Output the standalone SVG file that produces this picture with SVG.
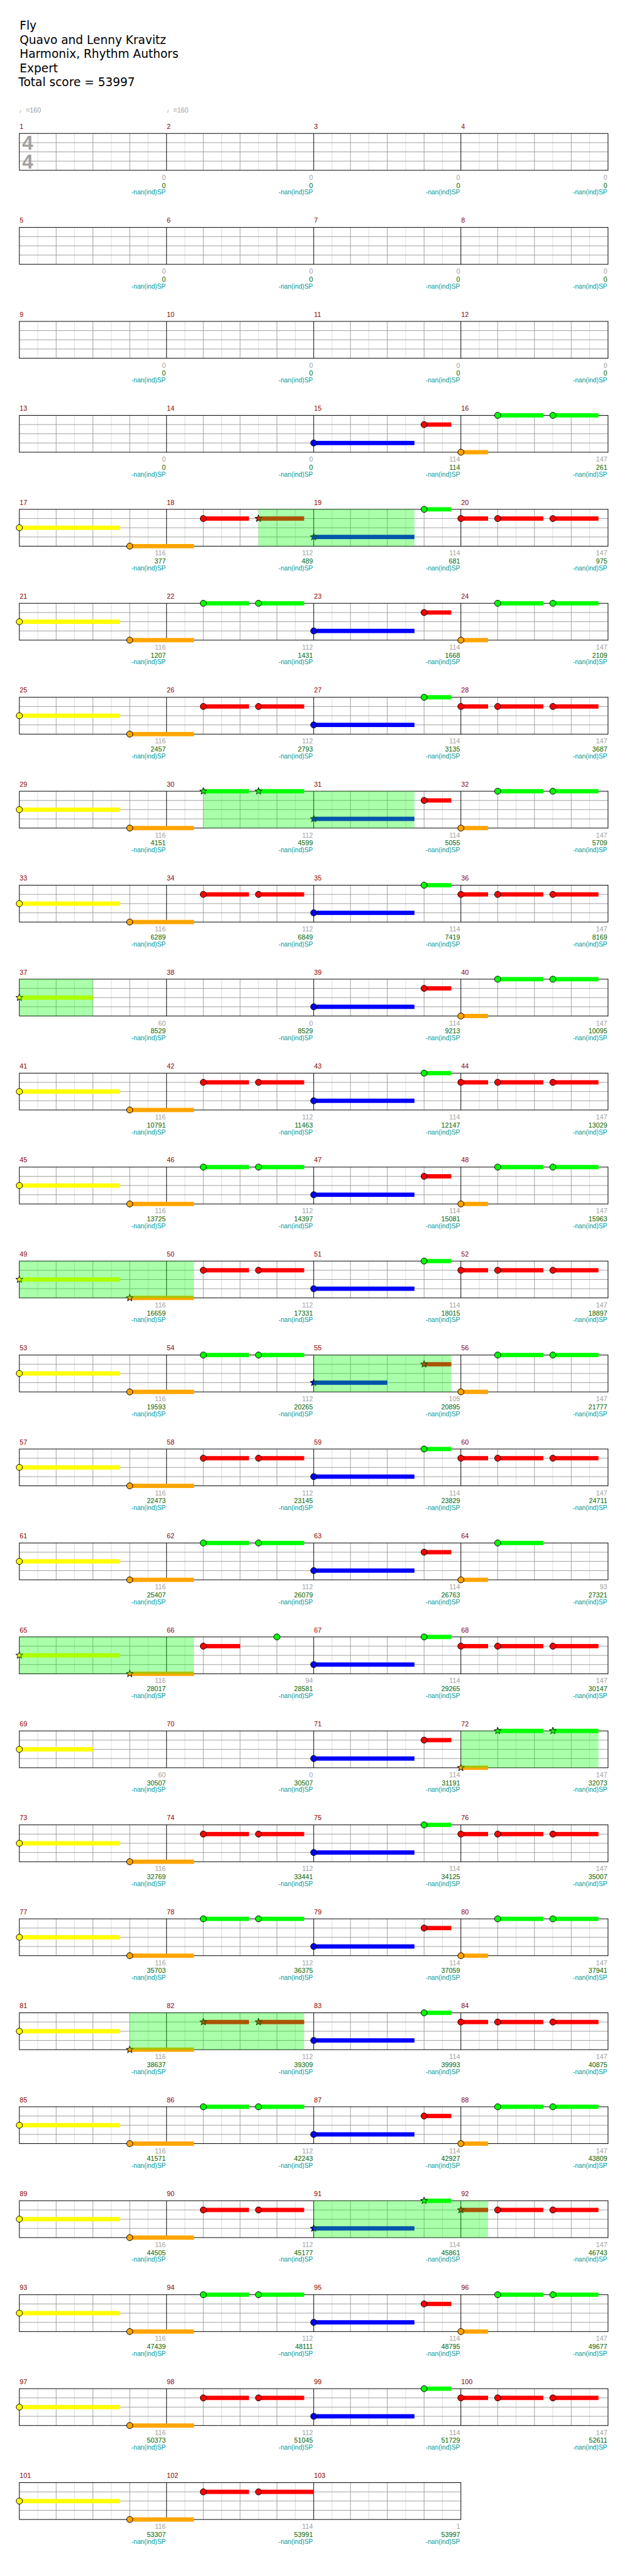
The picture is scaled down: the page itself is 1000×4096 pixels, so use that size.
<svg xmlns="http://www.w3.org/2000/svg" xmlns:xlink="http://www.w3.org/1999/xlink" width="1000" height="4096" viewBox="0 0 1000 4096">
<style>
.t{font-family:"DejaVu Sans",sans-serif;font-size:19px;fill:#000}
.tm{font-family:"Liberation Sans","DejaVu Sans",sans-serif;font-size:11px;fill:#a0a0a0}
.ts{font-family:"Liberation Sans",sans-serif;font-size:32px;font-weight:bold;fill:#a0a0a0}
.mn{font-family:"Liberation Sans",sans-serif;font-size:11px;fill:#8b0000}
.s1,.s2,.s3{font-family:"Liberation Sans",sans-serif;font-size:11px;text-anchor:end}
.s1{fill:#a0a0a0}.s2{fill:#006400}.s3{fill:#009b9b;font-size:10.5px}
.hl{stroke:#dcdcdc;stroke-width:1;fill:none}
.bl{stroke:#a0a0a0;stroke-width:1;fill:none}
.ml{stroke:#000;stroke-width:1;fill:none}
.G{fill:#00ff00}.R{fill:#ff0000}.Y{fill:#ffff00}.B{fill:#0000ff}.O{fill:#ffa500}
circle{stroke:#000;stroke-width:1}
.sp{fill:#00ff00;fill-opacity:0.333}
</style>
<defs>
<path id="star" d="M0,-6L1.47,-2.02L5.71,-1.85L2.38,0.77L3.53,4.85L0,2.5L-3.53,4.85L-2.38,0.77L-5.71,-1.85L-1.47,-2.02Z" stroke="#000" stroke-width="1"/>
<g id="grid4">
<path class="hl" d="M29.95,0V60M89.85,0V60M149.75,0V60M209.65,0V60M269.55,0V60M329.45,0V60M389.35,0V60M449.25,0V60M509.15,0V60M569.05,0V60M628.95,0V60M688.85,0V60M748.75,0V60M808.65,0V60M868.55,0V60M928.45,0V60"/>
<path class="bl" d="M59.9,0V60M119.8,0V60M179.7,0V60M299.5,0V60M359.4,0V60M419.3,0V60M539.1,0V60M599,0V60M658.9,0V60M778.7,0V60M838.6,0V60M898.5,0V60M0,15H958.4M0,30H958.4M0,45H958.4"/>
<path class="ml" d="M239.6,0V60M479.2,0V60M718.8,0V60"/>
<rect class="ml" x="0" y="0" width="958.4" height="60"/>
</g>
<g id="grid3">
<path class="hl" d="M29.95,0V60M89.85,0V60M149.75,0V60M209.65,0V60M269.55,0V60M329.45,0V60M389.35,0V60M449.25,0V60M509.15,0V60M569.05,0V60M628.95,0V60M688.85,0V60"/>
<path class="bl" d="M59.9,0V60M119.8,0V60M179.7,0V60M299.5,0V60M359.4,0V60M419.3,0V60M539.1,0V60M599,0V60M658.9,0V60M0,15H718.8M0,30H718.8M0,45H718.8"/>
<path class="ml" d="M239.6,0V60M479.2,0V60"/>
<rect class="ml" x="0" y="0" width="718.8" height="60"/>
</g>
<g id="YO">
<rect class="Y" x="0" y="26.5" width="164" height="7"/><circle class="Y" cx="0" cy="30" r="5"/>
<rect class="O" x="179.7" y="56.5" width="104.5" height="7"/><circle class="O" cx="179.7" cy="60" r="5"/>
</g>
<g id="A1g">
<rect class="G" x="299.5" y="-3.5" width="74.3" height="7"/><circle class="G" cx="299.5" cy="0" r="5"/>
<rect class="G" x="389.35" y="-3.5" width="74.3" height="7"/><circle class="G" cx="389.35" cy="0" r="5"/>
</g>
<g id="B1r">
<rect class="R" x="299.5" y="11.5" width="74.3" height="7"/><circle class="R" cx="299.5" cy="15" r="5"/>
<rect class="R" x="389.35" y="11.5" width="74.3" height="7"/><circle class="R" cx="389.35" cy="15" r="5"/>
</g>
<g id="Bl">
<rect class="B" x="479.2" y="41.5" width="164" height="7"/><circle class="B" cx="479.2" cy="45" r="5"/>
</g>
<g id="A2t">
<rect class="R" x="658.9" y="11.5" width="44.3" height="7"/><circle class="R" cx="658.9" cy="15" r="5"/>
<rect class="O" x="718.8" y="56.5" width="44.3" height="7"/><circle class="O" cx="718.8" cy="60" r="5"/>
<rect class="G" x="778.7" y="-3.5" width="74.3" height="7"/><circle class="G" cx="778.7" cy="0" r="5"/>
<rect class="G" x="868.55" y="-3.5" width="74.3" height="7"/><circle class="G" cx="868.55" cy="0" r="5"/>
</g>
<g id="B2t">
<rect class="G" x="658.9" y="-3.5" width="44.3" height="7"/><circle class="G" cx="658.9" cy="0" r="5"/>
<rect class="R" x="718.8" y="11.5" width="44.3" height="7"/><circle class="R" cx="718.8" cy="15" r="5"/>
<rect class="R" x="778.7" y="11.5" width="74.3" height="7"/><circle class="R" cx="778.7" cy="15" r="5"/>
<rect class="R" x="868.55" y="11.5" width="74.3" height="7"/><circle class="R" cx="868.55" cy="15" r="5"/>
</g>
<g id="A"><use href="#YO"/><use href="#A1g"/><use href="#Bl"/><use href="#A2t"/></g>
<g id="B"><use href="#YO"/><use href="#B1r"/><use href="#Bl"/><use href="#B2t"/></g>
<g id="nan4">
<text class="s3" x="238.3" y="99.5">-nan(ind)SP</text><text class="s3" x="477.9" y="99.5">-nan(ind)SP</text><text class="s3" x="717.5" y="99.5">-nan(ind)SP</text><text class="s3" x="957.1" y="99.5">-nan(ind)SP</text>
</g>
</defs>
<g transform="scale(0.9765625)">
<g id="header">
<text class="t" x="32" y="48">Fly</text>
<text class="t" x="32" y="71.5">Quavo and Lenny Kravitz</text>
<text class="t" x="32" y="94.5">Harmonix, Rhythm Authors</text>
<text class="t" x="32" y="117.5">Expert</text>
<text class="t" x="30" y="140.5">Total score = 53997</text>
<text class="tm" x="31" y="183">♩=160</text>
<text class="tm" x="271" y="183">♩=160</text>
</g>

<g id="row-1-4" transform="translate(31.5,217.3)">
<use href="#grid4"/>
<text class="ts" x="4.5" y="26.7">4</text><text class="ts" x="4.5" y="56.7">4</text>
<text class="mn" x="0.5" y="-7.5">1</text><text class="mn" x="240.1" y="-7.5">2</text><text class="mn" x="479.7" y="-7.5">3</text><text class="mn" x="719.3" y="-7.5">4</text>
<text class="s1" x="238.3" y="75.4">0</text><text class="s1" x="477.9" y="75.4">0</text><text class="s1" x="717.5" y="75.4">0</text><text class="s1" x="957.1" y="75.4">0</text>
<text class="s2" x="238.3" y="88.4">0</text><text class="s2" x="477.9" y="88.4">0</text><text class="s2" x="717.5" y="88.4">0</text><text class="s2" x="957.1" y="88.4">0</text>
<use href="#nan4"/>
</g>

<g id="row-5-8" transform="translate(31.5,370.3)">
<use href="#grid4"/>
<text class="mn" x="0.5" y="-7.5">5</text><text class="mn" x="240.1" y="-7.5">6</text><text class="mn" x="479.7" y="-7.5">7</text><text class="mn" x="719.3" y="-7.5">8</text>
<text class="s1" x="238.3" y="75.4">0</text><text class="s1" x="477.9" y="75.4">0</text><text class="s1" x="717.5" y="75.4">0</text><text class="s1" x="957.1" y="75.4">0</text>
<text class="s2" x="238.3" y="88.4">0</text><text class="s2" x="477.9" y="88.4">0</text><text class="s2" x="717.5" y="88.4">0</text><text class="s2" x="957.1" y="88.4">0</text>
<use href="#nan4"/>
</g>

<g id="row-9-12" transform="translate(31.5,523.3)">
<use href="#grid4"/>
<text class="mn" x="0.5" y="-7.5">9</text><text class="mn" x="240.1" y="-7.5">10</text><text class="mn" x="479.7" y="-7.5">11</text><text class="mn" x="719.3" y="-7.5">12</text>
<text class="s1" x="238.3" y="75.4">0</text><text class="s1" x="477.9" y="75.4">0</text><text class="s1" x="717.5" y="75.4">0</text><text class="s1" x="957.1" y="75.4">0</text>
<text class="s2" x="238.3" y="88.4">0</text><text class="s2" x="477.9" y="88.4">0</text><text class="s2" x="717.5" y="88.4">0</text><text class="s2" x="957.1" y="88.4">0</text>
<use href="#nan4"/>
</g>

<g id="row-13-16" transform="translate(31.5,676.3)">
<use href="#grid4"/>
<use href="#Bl"/><use href="#A2t"/>
<text class="mn" x="0.5" y="-7.5">13</text><text class="mn" x="240.1" y="-7.5">14</text><text class="mn" x="479.7" y="-7.5">15</text><text class="mn" x="719.3" y="-7.5">16</text>
<text class="s1" x="238.3" y="75.4">0</text><text class="s1" x="477.9" y="75.4">0</text><text class="s1" x="717.5" y="75.4">114</text><text class="s1" x="957.1" y="75.4">147</text>
<text class="s2" x="238.3" y="88.4">0</text><text class="s2" x="477.9" y="88.4">0</text><text class="s2" x="717.5" y="88.4">114</text><text class="s2" x="957.1" y="88.4">261</text>
<use href="#nan4"/>
</g>

<g id="row-17-20" transform="translate(31.5,829.3)">
<use href="#grid4"/>
<use href="#YO"/>
<rect class="R" x="299.5" y="11.5" width="74.3" height="7"/><circle class="R" cx="299.5" cy="15" r="5"/>
<rect class="R" x="389.35" y="11.5" width="74.3" height="7"/><use href="#star" class="R" x="389.35" y="15"/>
<rect class="B" x="479.2" y="41.5" width="164" height="7"/><use href="#star" class="B" x="479.2" y="45"/>
<use href="#B2t"/>
<rect class="sp" x="389.35" y="0" width="253.85" height="60"/>
<text class="mn" x="0.5" y="-7.5">17</text><text class="mn" x="240.1" y="-7.5">18</text><text class="mn" x="479.7" y="-7.5">19</text><text class="mn" x="719.3" y="-7.5">20</text>
<text class="s1" x="238.3" y="75.4">116</text><text class="s1" x="477.9" y="75.4">112</text><text class="s1" x="717.5" y="75.4">114</text><text class="s1" x="957.1" y="75.4">147</text>
<text class="s2" x="238.3" y="88.4">377</text><text class="s2" x="477.9" y="88.4">489</text><text class="s2" x="717.5" y="88.4">681</text><text class="s2" x="957.1" y="88.4">975</text>
<use href="#nan4"/>
</g>

<g id="row-21-24" transform="translate(31.5,982.3)">
<use href="#grid4"/><use href="#A"/>
<text class="mn" x="0.5" y="-7.5">21</text><text class="mn" x="240.1" y="-7.5">22</text><text class="mn" x="479.7" y="-7.5">23</text><text class="mn" x="719.3" y="-7.5">24</text>
<text class="s1" x="238.3" y="75.4">116</text><text class="s1" x="477.9" y="75.4">112</text><text class="s1" x="717.5" y="75.4">114</text><text class="s1" x="957.1" y="75.4">147</text>
<text class="s2" x="238.3" y="88.4">1207</text><text class="s2" x="477.9" y="88.4">1431</text><text class="s2" x="717.5" y="88.4">1668</text><text class="s2" x="957.1" y="88.4">2109</text>
<use href="#nan4"/>
</g>

<g id="row-25-28" transform="translate(31.5,1135.3)">
<use href="#grid4"/><use href="#B"/>
<text class="mn" x="0.5" y="-7.5">25</text><text class="mn" x="240.1" y="-7.5">26</text><text class="mn" x="479.7" y="-7.5">27</text><text class="mn" x="719.3" y="-7.5">28</text>
<text class="s1" x="238.3" y="75.4">116</text><text class="s1" x="477.9" y="75.4">112</text><text class="s1" x="717.5" y="75.4">114</text><text class="s1" x="957.1" y="75.4">147</text>
<text class="s2" x="238.3" y="88.4">2457</text><text class="s2" x="477.9" y="88.4">2793</text><text class="s2" x="717.5" y="88.4">3135</text><text class="s2" x="957.1" y="88.4">3687</text>
<use href="#nan4"/>
</g>

<g id="row-29-32" transform="translate(31.5,1288.3)">
<use href="#grid4"/>
<use href="#YO"/>
<rect class="G" x="299.5" y="-3.5" width="74.3" height="7"/><use href="#star" class="G" x="299.5" y="0"/>
<rect class="G" x="389.35" y="-3.5" width="74.3" height="7"/><use href="#star" class="G" x="389.35" y="0"/>
<rect class="B" x="479.2" y="41.5" width="164" height="7"/><use href="#star" class="B" x="479.2" y="45"/>
<use href="#A2t"/>
<rect class="sp" x="299.5" y="0" width="343.7" height="60"/>
<text class="mn" x="0.5" y="-7.5">29</text><text class="mn" x="240.1" y="-7.5">30</text><text class="mn" x="479.7" y="-7.5">31</text><text class="mn" x="719.3" y="-7.5">32</text>
<text class="s1" x="238.3" y="75.4">116</text><text class="s1" x="477.9" y="75.4">112</text><text class="s1" x="717.5" y="75.4">114</text><text class="s1" x="957.1" y="75.4">147</text>
<text class="s2" x="238.3" y="88.4">4151</text><text class="s2" x="477.9" y="88.4">4599</text><text class="s2" x="717.5" y="88.4">5055</text><text class="s2" x="957.1" y="88.4">5709</text>
<use href="#nan4"/>
</g>

<g id="row-33-36" transform="translate(31.5,1441.3)">
<use href="#grid4"/><use href="#B"/>
<text class="mn" x="0.5" y="-7.5">33</text><text class="mn" x="240.1" y="-7.5">34</text><text class="mn" x="479.7" y="-7.5">35</text><text class="mn" x="719.3" y="-7.5">36</text>
<text class="s1" x="238.3" y="75.4">116</text><text class="s1" x="477.9" y="75.4">112</text><text class="s1" x="717.5" y="75.4">114</text><text class="s1" x="957.1" y="75.4">147</text>
<text class="s2" x="238.3" y="88.4">6289</text><text class="s2" x="477.9" y="88.4">6849</text><text class="s2" x="717.5" y="88.4">7419</text><text class="s2" x="957.1" y="88.4">8169</text>
<use href="#nan4"/>
</g>

<g id="row-37-40" transform="translate(31.5,1594.3)">
<use href="#grid4"/>
<rect class="Y" x="0" y="26.5" width="119.8" height="7"/><use href="#star" class="Y" x="0" y="30"/>
<use href="#Bl"/><use href="#A2t"/>
<rect class="sp" x="0" y="0" width="119.8" height="60"/>
<text class="mn" x="0.5" y="-7.5">37</text><text class="mn" x="240.1" y="-7.5">38</text><text class="mn" x="479.7" y="-7.5">39</text><text class="mn" x="719.3" y="-7.5">40</text>
<text class="s1" x="238.3" y="75.4">60</text><text class="s1" x="477.9" y="75.4">0</text><text class="s1" x="717.5" y="75.4">114</text><text class="s1" x="957.1" y="75.4">147</text>
<text class="s2" x="238.3" y="88.4">8529</text><text class="s2" x="477.9" y="88.4">8529</text><text class="s2" x="717.5" y="88.4">9213</text><text class="s2" x="957.1" y="88.4">10095</text>
<use href="#nan4"/>
</g>

<g id="row-41-44" transform="translate(31.5,1747.3)">
<use href="#grid4"/><use href="#B"/>
<text class="mn" x="0.5" y="-7.5">41</text><text class="mn" x="240.1" y="-7.5">42</text><text class="mn" x="479.7" y="-7.5">43</text><text class="mn" x="719.3" y="-7.5">44</text>
<text class="s1" x="238.3" y="75.4">116</text><text class="s1" x="477.9" y="75.4">112</text><text class="s1" x="717.5" y="75.4">114</text><text class="s1" x="957.1" y="75.4">147</text>
<text class="s2" x="238.3" y="88.4">10791</text><text class="s2" x="477.9" y="88.4">11463</text><text class="s2" x="717.5" y="88.4">12147</text><text class="s2" x="957.1" y="88.4">13029</text>
<use href="#nan4"/>
</g>

<g id="row-45-48" transform="translate(31.5,1900.3)">
<use href="#grid4"/><use href="#A"/>
<text class="mn" x="0.5" y="-7.5">45</text><text class="mn" x="240.1" y="-7.5">46</text><text class="mn" x="479.7" y="-7.5">47</text><text class="mn" x="719.3" y="-7.5">48</text>
<text class="s1" x="238.3" y="75.4">116</text><text class="s1" x="477.9" y="75.4">112</text><text class="s1" x="717.5" y="75.4">114</text><text class="s1" x="957.1" y="75.4">147</text>
<text class="s2" x="238.3" y="88.4">13725</text><text class="s2" x="477.9" y="88.4">14397</text><text class="s2" x="717.5" y="88.4">15081</text><text class="s2" x="957.1" y="88.4">15963</text>
<use href="#nan4"/>
</g>

<g id="row-49-52" transform="translate(31.5,2053.3)">
<use href="#grid4"/>
<rect class="Y" x="0" y="26.5" width="164" height="7"/><use href="#star" class="Y" x="0" y="30"/>
<rect class="O" x="179.7" y="56.5" width="104.5" height="7"/><use href="#star" class="O" x="179.7" y="60"/>
<use href="#B1r"/><use href="#Bl"/><use href="#B2t"/>
<rect class="sp" x="0" y="0" width="284.2" height="60"/>
<text class="mn" x="0.5" y="-7.5">49</text><text class="mn" x="240.1" y="-7.5">50</text><text class="mn" x="479.7" y="-7.5">51</text><text class="mn" x="719.3" y="-7.5">52</text>
<text class="s1" x="238.3" y="75.4">116</text><text class="s1" x="477.9" y="75.4">112</text><text class="s1" x="717.5" y="75.4">114</text><text class="s1" x="957.1" y="75.4">147</text>
<text class="s2" x="238.3" y="88.4">16659</text><text class="s2" x="477.9" y="88.4">17331</text><text class="s2" x="717.5" y="88.4">18015</text><text class="s2" x="957.1" y="88.4">18897</text>
<use href="#nan4"/>
</g>

<g id="row-53-56" transform="translate(31.5,2206.3)">
<use href="#grid4"/>
<use href="#YO"/><use href="#A1g"/>
<rect class="B" x="479.2" y="41.5" width="119.8" height="7"/><use href="#star" class="B" x="479.2" y="45"/>
<rect class="R" x="658.9" y="11.5" width="44.3" height="7"/><use href="#star" class="R" x="658.9" y="15"/>
<rect class="O" x="718.8" y="56.5" width="44.3" height="7"/><circle class="O" cx="718.8" cy="60" r="5"/>
<rect class="G" x="778.7" y="-3.5" width="74.3" height="7"/><circle class="G" cx="778.7" cy="0" r="5"/>
<rect class="G" x="868.55" y="-3.5" width="74.3" height="7"/><circle class="G" cx="868.55" cy="0" r="5"/>
<rect class="sp" x="479.2" y="0" width="224" height="60"/>
<text class="mn" x="0.5" y="-7.5">53</text><text class="mn" x="240.1" y="-7.5">54</text><text class="mn" x="479.7" y="-7.5">55</text><text class="mn" x="719.3" y="-7.5">56</text>
<text class="s1" x="238.3" y="75.4">116</text><text class="s1" x="477.9" y="75.4">112</text><text class="s1" x="717.5" y="75.4">105</text><text class="s1" x="957.1" y="75.4">147</text>
<text class="s2" x="238.3" y="88.4">19593</text><text class="s2" x="477.9" y="88.4">20265</text><text class="s2" x="717.5" y="88.4">20895</text><text class="s2" x="957.1" y="88.4">21777</text>
<use href="#nan4"/>
</g>

<g id="row-57-60" transform="translate(31.5,2359.3)">
<use href="#grid4"/><use href="#B"/>
<text class="mn" x="0.5" y="-7.5">57</text><text class="mn" x="240.1" y="-7.5">58</text><text class="mn" x="479.7" y="-7.5">59</text><text class="mn" x="719.3" y="-7.5">60</text>
<text class="s1" x="238.3" y="75.4">116</text><text class="s1" x="477.9" y="75.4">112</text><text class="s1" x="717.5" y="75.4">114</text><text class="s1" x="957.1" y="75.4">147</text>
<text class="s2" x="238.3" y="88.4">22473</text><text class="s2" x="477.9" y="88.4">23145</text><text class="s2" x="717.5" y="88.4">23829</text><text class="s2" x="957.1" y="88.4">24711</text>
<use href="#nan4"/>
</g>

<g id="row-61-64" transform="translate(31.5,2512.3)">
<use href="#grid4"/>
<use href="#YO"/><use href="#A1g"/><use href="#Bl"/>
<rect class="R" x="658.9" y="11.5" width="44.3" height="7"/><circle class="R" cx="658.9" cy="15" r="5"/>
<rect class="O" x="718.8" y="56.5" width="44.3" height="7"/><circle class="O" cx="718.8" cy="60" r="5"/>
<rect class="G" x="778.7" y="-3.5" width="74.3" height="7"/><circle class="G" cx="778.7" cy="0" r="5"/>
<text class="mn" x="0.5" y="-7.5">61</text><text class="mn" x="240.1" y="-7.5">62</text><text class="mn" x="479.7" y="-7.5">63</text><text class="mn" x="719.3" y="-7.5">64</text>
<text class="s1" x="238.3" y="75.4">116</text><text class="s1" x="477.9" y="75.4">112</text><text class="s1" x="717.5" y="75.4">114</text><text class="s1" x="957.1" y="75.4">93</text>
<text class="s2" x="238.3" y="88.4">25407</text><text class="s2" x="477.9" y="88.4">26079</text><text class="s2" x="717.5" y="88.4">26763</text><text class="s2" x="957.1" y="88.4">27321</text>
<use href="#nan4"/>
</g>

<g id="row-65-68" transform="translate(31.5,2665.3)">
<use href="#grid4"/>
<rect class="Y" x="0" y="26.5" width="164" height="7"/><use href="#star" class="Y" x="0" y="30"/>
<rect class="O" x="179.7" y="56.5" width="104.5" height="7"/><use href="#star" class="O" x="179.7" y="60"/>
<rect class="R" x="299.5" y="11.5" width="59.9" height="7"/><circle class="R" cx="299.5" cy="15" r="5"/>
<circle class="G" cx="419.3" cy="0" r="5"/>
<use href="#Bl"/><use href="#B2t"/>
<rect class="sp" x="0" y="0" width="284.2" height="60"/>
<text class="mn" x="0.5" y="-7.5">65</text><text class="mn" x="240.1" y="-7.5">66</text><text class="mn" x="479.7" y="-7.5">67</text><text class="mn" x="719.3" y="-7.5">68</text>
<text class="s1" x="238.3" y="75.4">116</text><text class="s1" x="477.9" y="75.4">94</text><text class="s1" x="717.5" y="75.4">114</text><text class="s1" x="957.1" y="75.4">147</text>
<text class="s2" x="238.3" y="88.4">28017</text><text class="s2" x="477.9" y="88.4">28581</text><text class="s2" x="717.5" y="88.4">29265</text><text class="s2" x="957.1" y="88.4">30147</text>
<use href="#nan4"/>
</g>

<g id="row-69-72" transform="translate(31.5,2818.3)">
<use href="#grid4"/>
<rect class="Y" x="0" y="26.5" width="119.8" height="7"/><circle class="Y" cx="0" cy="30" r="5"/>
<use href="#Bl"/>
<rect class="R" x="658.9" y="11.5" width="44.3" height="7"/><circle class="R" cx="658.9" cy="15" r="5"/>
<rect class="O" x="718.8" y="56.5" width="44.3" height="7"/><use href="#star" class="O" x="718.8" y="60"/>
<rect class="G" x="778.7" y="-3.5" width="74.3" height="7"/><use href="#star" class="G" x="778.7" y="0"/>
<rect class="G" x="868.55" y="-3.5" width="74.3" height="7"/><use href="#star" class="G" x="868.55" y="0"/>
<rect class="sp" x="718.8" y="0" width="224.05" height="60"/>
<text class="mn" x="0.5" y="-7.5">69</text><text class="mn" x="240.1" y="-7.5">70</text><text class="mn" x="479.7" y="-7.5">71</text><text class="mn" x="719.3" y="-7.5">72</text>
<text class="s1" x="238.3" y="75.4">60</text><text class="s1" x="477.9" y="75.4">0</text><text class="s1" x="717.5" y="75.4">114</text><text class="s1" x="957.1" y="75.4">147</text>
<text class="s2" x="238.3" y="88.4">30507</text><text class="s2" x="477.9" y="88.4">30507</text><text class="s2" x="717.5" y="88.4">31191</text><text class="s2" x="957.1" y="88.4">32073</text>
<use href="#nan4"/>
</g>

<g id="row-73-76" transform="translate(31.5,2971.3)">
<use href="#grid4"/><use href="#B"/>
<text class="mn" x="0.5" y="-7.5">73</text><text class="mn" x="240.1" y="-7.5">74</text><text class="mn" x="479.7" y="-7.5">75</text><text class="mn" x="719.3" y="-7.5">76</text>
<text class="s1" x="238.3" y="75.4">116</text><text class="s1" x="477.9" y="75.4">112</text><text class="s1" x="717.5" y="75.4">114</text><text class="s1" x="957.1" y="75.4">147</text>
<text class="s2" x="238.3" y="88.4">32769</text><text class="s2" x="477.9" y="88.4">33441</text><text class="s2" x="717.5" y="88.4">34125</text><text class="s2" x="957.1" y="88.4">35007</text>
<use href="#nan4"/>
</g>

<g id="row-77-80" transform="translate(31.5,3124.3)">
<use href="#grid4"/><use href="#A"/>
<text class="mn" x="0.5" y="-7.5">77</text><text class="mn" x="240.1" y="-7.5">78</text><text class="mn" x="479.7" y="-7.5">79</text><text class="mn" x="719.3" y="-7.5">80</text>
<text class="s1" x="238.3" y="75.4">116</text><text class="s1" x="477.9" y="75.4">112</text><text class="s1" x="717.5" y="75.4">114</text><text class="s1" x="957.1" y="75.4">147</text>
<text class="s2" x="238.3" y="88.4">35703</text><text class="s2" x="477.9" y="88.4">36375</text><text class="s2" x="717.5" y="88.4">37059</text><text class="s2" x="957.1" y="88.4">37941</text>
<use href="#nan4"/>
</g>

<g id="row-81-84" transform="translate(31.5,3277.3)">
<use href="#grid4"/>
<rect class="Y" x="0" y="26.5" width="164" height="7"/><circle class="Y" cx="0" cy="30" r="5"/>
<rect class="O" x="179.7" y="56.5" width="104.5" height="7"/><use href="#star" class="O" x="179.7" y="60"/>
<rect class="R" x="299.5" y="11.5" width="74.3" height="7"/><use href="#star" class="R" x="299.5" y="15"/>
<rect class="R" x="389.35" y="11.5" width="74.3" height="7"/><use href="#star" class="R" x="389.35" y="15"/>
<use href="#Bl"/><use href="#B2t"/>
<rect class="sp" x="179.7" y="0" width="283.95" height="60"/>
<text class="mn" x="0.5" y="-7.5">81</text><text class="mn" x="240.1" y="-7.5">82</text><text class="mn" x="479.7" y="-7.5">83</text><text class="mn" x="719.3" y="-7.5">84</text>
<text class="s1" x="238.3" y="75.4">116</text><text class="s1" x="477.9" y="75.4">112</text><text class="s1" x="717.5" y="75.4">114</text><text class="s1" x="957.1" y="75.4">147</text>
<text class="s2" x="238.3" y="88.4">38637</text><text class="s2" x="477.9" y="88.4">39309</text><text class="s2" x="717.5" y="88.4">39993</text><text class="s2" x="957.1" y="88.4">40875</text>
<use href="#nan4"/>
</g>

<g id="row-85-88" transform="translate(31.5,3430.3)">
<use href="#grid4"/><use href="#A"/>
<text class="mn" x="0.5" y="-7.5">85</text><text class="mn" x="240.1" y="-7.5">86</text><text class="mn" x="479.7" y="-7.5">87</text><text class="mn" x="719.3" y="-7.5">88</text>
<text class="s1" x="238.3" y="75.4">116</text><text class="s1" x="477.9" y="75.4">112</text><text class="s1" x="717.5" y="75.4">114</text><text class="s1" x="957.1" y="75.4">147</text>
<text class="s2" x="238.3" y="88.4">41571</text><text class="s2" x="477.9" y="88.4">42243</text><text class="s2" x="717.5" y="88.4">42927</text><text class="s2" x="957.1" y="88.4">43809</text>
<use href="#nan4"/>
</g>

<g id="row-89-92" transform="translate(31.5,3583.3)">
<use href="#grid4"/>
<use href="#YO"/><use href="#B1r"/>
<rect class="B" x="479.2" y="41.5" width="164" height="7"/><use href="#star" class="B" x="479.2" y="45"/>
<rect class="G" x="658.9" y="-3.5" width="44.3" height="7"/><use href="#star" class="G" x="658.9" y="0"/>
<rect class="R" x="718.8" y="11.5" width="44.3" height="7"/><use href="#star" class="R" x="718.8" y="15"/>
<rect class="R" x="778.7" y="11.5" width="74.3" height="7"/><circle class="R" cx="778.7" cy="15" r="5"/>
<rect class="R" x="868.55" y="11.5" width="74.3" height="7"/><circle class="R" cx="868.55" cy="15" r="5"/>
<rect class="sp" x="479.2" y="0" width="283.9" height="60"/>
<text class="mn" x="0.5" y="-7.5">89</text><text class="mn" x="240.1" y="-7.5">90</text><text class="mn" x="479.7" y="-7.5">91</text><text class="mn" x="719.3" y="-7.5">92</text>
<text class="s1" x="238.3" y="75.4">116</text><text class="s1" x="477.9" y="75.4">112</text><text class="s1" x="717.5" y="75.4">114</text><text class="s1" x="957.1" y="75.4">147</text>
<text class="s2" x="238.3" y="88.4">44505</text><text class="s2" x="477.9" y="88.4">45177</text><text class="s2" x="717.5" y="88.4">45861</text><text class="s2" x="957.1" y="88.4">46743</text>
<use href="#nan4"/>
</g>

<g id="row-93-96" transform="translate(31.5,3736.3)">
<use href="#grid4"/><use href="#A"/>
<text class="mn" x="0.5" y="-7.5">93</text><text class="mn" x="240.1" y="-7.5">94</text><text class="mn" x="479.7" y="-7.5">95</text><text class="mn" x="719.3" y="-7.5">96</text>
<text class="s1" x="238.3" y="75.4">116</text><text class="s1" x="477.9" y="75.4">112</text><text class="s1" x="717.5" y="75.4">114</text><text class="s1" x="957.1" y="75.4">147</text>
<text class="s2" x="238.3" y="88.4">47439</text><text class="s2" x="477.9" y="88.4">48111</text><text class="s2" x="717.5" y="88.4">48795</text><text class="s2" x="957.1" y="88.4">49677</text>
<use href="#nan4"/>
</g>

<g id="row-97-100" transform="translate(31.5,3889.3)">
<use href="#grid4"/><use href="#B"/>
<text class="mn" x="0.5" y="-7.5">97</text><text class="mn" x="240.1" y="-7.5">98</text><text class="mn" x="479.7" y="-7.5">99</text><text class="mn" x="719.3" y="-7.5">100</text>
<text class="s1" x="238.3" y="75.4">116</text><text class="s1" x="477.9" y="75.4">112</text><text class="s1" x="717.5" y="75.4">114</text><text class="s1" x="957.1" y="75.4">147</text>
<text class="s2" x="238.3" y="88.4">50373</text><text class="s2" x="477.9" y="88.4">51045</text><text class="s2" x="717.5" y="88.4">51729</text><text class="s2" x="957.1" y="88.4">52611</text>
<use href="#nan4"/>
</g>

<g id="row-101-103" transform="translate(31.5,4042.3)">
<use href="#grid3"/>
<use href="#YO"/>
<rect class="R" x="299.5" y="11.5" width="74.3" height="7"/><circle class="R" cx="299.5" cy="15" r="5"/>
<rect class="R" x="389.35" y="11.5" width="89.85" height="7"/><circle class="R" cx="389.35" cy="15" r="5"/>
<text class="mn" x="0.5" y="-7.5">101</text><text class="mn" x="240.1" y="-7.5">102</text><text class="mn" x="479.7" y="-7.5">103</text>
<text class="s1" x="238.3" y="75.4">116</text><text class="s1" x="477.9" y="75.4">114</text><text class="s1" x="717.5" y="75.4">1</text>
<text class="s2" x="238.3" y="88.4">53307</text><text class="s2" x="477.9" y="88.4">53991</text><text class="s2" x="717.5" y="88.4">53997</text>
<text class="s3" x="238.3" y="99.5">-nan(ind)SP</text><text class="s3" x="477.9" y="99.5">-nan(ind)SP</text><text class="s3" x="717.5" y="99.5">-nan(ind)SP</text>
</g>
</g>
</svg>
